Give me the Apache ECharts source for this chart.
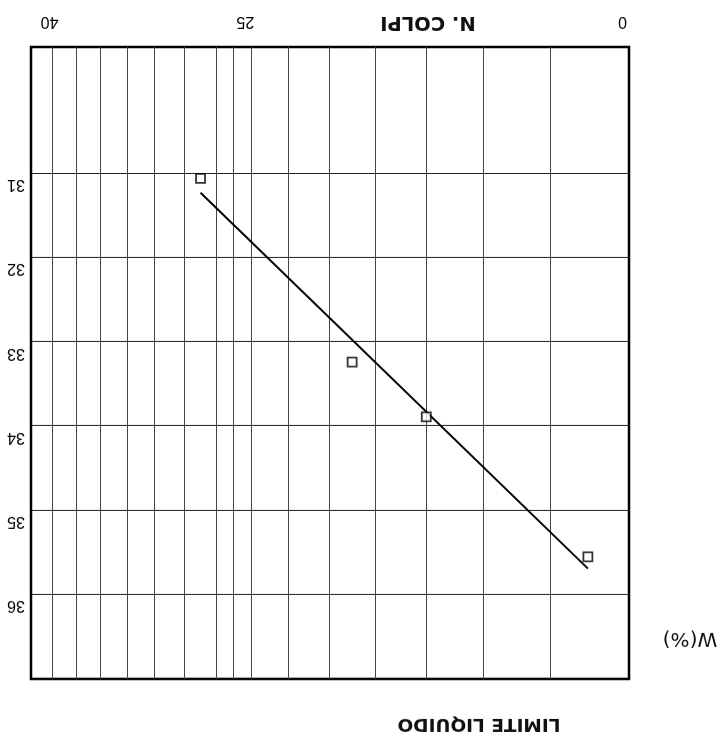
<!DOCTYPE html>
<html>
<head>
<meta charset="utf-8">
<script src="https://cdn.jsdelivr.net/npm/echarts@6/dist/echarts.min.js"></script>
<style>
  html, body { margin: 0; padding: 0; background: #fff; }
  #chart { width: 721px; height: 739px; transform: rotate(180deg); transform-origin: 50% 50%; }
</style>
</head>
<body>
<div id="chart"></div>
<script>
// ---- data ----
const xGridValues = [12, 14, 16, 18, 20, 22, 24, 25, 26, 28, 30, 32, 34, 36, 38];
const xLabelValues = [10, 25, 40];
const xLabelTexts = ['0', '25', '40'];
const yGridValues = [31, 32, 33, 34, 35, 36];
const yLabelValues = [31, 32, 33, 34, 35, 36];
const blowsN = [27, 19, 16, 11];
const waterW = [31.06, 33.24, 33.89, 35.55];
const fitN = [27, 11];
const fitW = [31.23, 35.69];
const titleText = 'LIMITE LIQUIDO';
const xName = 'N. COLPI';
const yName = 'W(%)';

const chart = echarts.init(document.getElementById('chart'));
const labelFont = { fontFamily: 'Liberation Sans, Arial, sans-serif', fontSize: 16, color: '#000' };
const xLabelRich = {
  s10: Object.assign({ padding: [0, 0, 0, 13] }, labelFont),
  s25: Object.assign({ padding: [0, 23, 0, 0] }, labelFont),
  s40: Object.assign({ padding: [0, 37, 0, 0] }, labelFont)
};

chart.setOption({
  animation: false,
  backgroundColor: '#fff',
  title: [
    { text: titleText, left: 242, top: 15, textAlign: 'center', textVerticalAlign: 'middle', padding: 0,
      textStyle: { fontFamily: 'DejaVu Sans', fontWeight: 'bold', fontSize: 18.5, color: '#111' } },
    { text: yName, left: 31, top: 101, textAlign: 'center', textVerticalAlign: 'middle', padding: 0,
      textStyle: { fontFamily: 'DejaVu Sans', fontWeight: 'normal', fontSize: 20, color: '#111' } },
    { text: xName, left: 293, top: 717, textAlign: 'center', textVerticalAlign: 'middle', padding: 0,
      textStyle: { fontFamily: 'DejaVu Sans', fontWeight: 'bold', fontSize: 19.5, color: '#111' } }
  ],
  grid: {
    left: 92, right: 31, top: 60, bottom: 47,
    containLabel: false,
    show: true, borderColor: '#000', borderWidth: 2.5, backgroundColor: 'transparent'
  },
  xAxis: {
    type: 'log', logBase: 10, min: 10, max: 40,
    axisLine: { show: false },
    axisTick: { show: false, customValues: xGridValues },
    splitLine: { show: true, lineStyle: { color: '#444', width: 1 } },
    axisLabel: {
      show: true, margin: 18, customValues: xLabelValues,
      formatter: function (v) {
        const i = xLabelValues.indexOf(Math.round(v));
        return '{s' + Math.round(v) + '|' + (i >= 0 ? xLabelTexts[i] : '') + '}';
      },
      rich: xLabelRich
    }
  },
  yAxis: {
    type: 'value', min: 29.5, max: 37, position: 'right',
    axisLine: { show: false },
    axisTick: { show: false, customValues: yGridValues },
    splitLine: { show: true, lineStyle: { color: '#222', width: 1.2 } },
    axisLabel: {
      show: true, margin: 6, customValues: yLabelValues,
      verticalAlign: 'bottom', padding: [0, 0, 3, 0],
      fontFamily: labelFont.fontFamily, fontSize: 16, color: '#000'
    }
  },
  series: [
    {
      type: 'line', data: fitN.map((n, i) => [n, fitW[i]]),
      symbol: 'none', lineStyle: { color: '#000', width: 2 }, z: 3
    },
    {
      type: 'scatter', data: blowsN.map((n, i) => [n, waterW[i]]),
      symbol: 'rect', symbolSize: 9,
      itemStyle: { color: '#fff', borderColor: '#000', borderWidth: 1.8 }, z: 4
    }
  ]
});
</script>
</body>
</html>
